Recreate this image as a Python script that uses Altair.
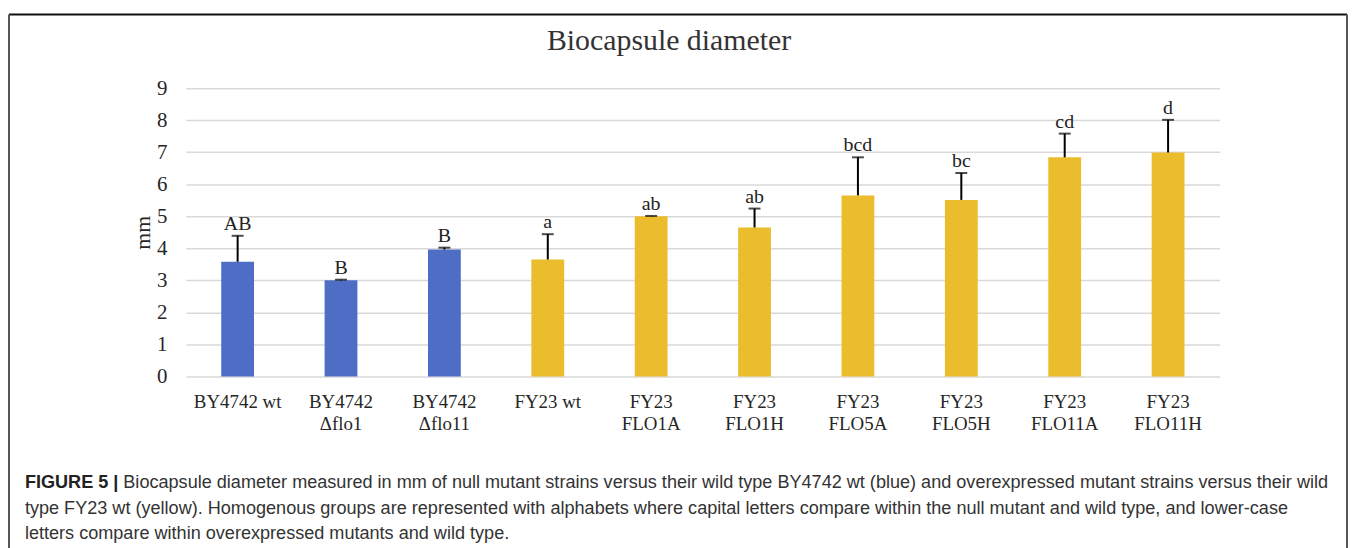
import altair as alt
import pandas as pd

# ---- data ----
strains = ["BY4742 wt", "BY4742 Δflo1", "BY4742 Δflo11", "FY23 wt", "FY23 FLO1A",
           "FY23 FLO1H", "FY23 FLO5A", "FY23 FLO5H", "FY23 FLO11A", "FY23 FLO11H"]
groups = ["BY4742", "BY4742", "BY4742", "FY23", "FY23",
          "FY23", "FY23", "FY23", "FY23", "FY23"]
means = [3.58, 3.00, 3.96, 3.65, 5.00, 4.65, 5.65, 5.51, 6.84, 6.99]
errors = [0.81, 0.02, 0.06, 0.79, 0.01, 0.59, 1.19, 0.84, 0.74, 1.02]
letters = ["AB", "B", "B", "a", "ab", "ab", "bcd", "bc", "cd", "d"]
y_ticks = [0, 1, 2, 3, 4, 5, 6, 7, 8, 9]

group_names = ["BY4742", "FY23"]
group_colors = ["#4E6EC5", "#EBBC2C"]

title_text = "Biocapsule diameter"
caption_bold = "FIGURE 5 |"
caption_lines = [
    "Biocapsule diameter measured in mm of null mutant strains versus their wild type BY4742 wt (blue) and overexpressed mutant strains versus their wild",
    "type FY23 wt (yellow). Homogenous groups are represented with alphabets where capital letters compare within the null mutant and wild type, and lower-case",
    "letters compare within overexpressed mutants and wild type.",
]

df = pd.DataFrame({
    "strain": strains,
    "group": groups,
    "mean": means,
    "err": errors,
    "letter": letters,
})
df["upper"] = df["mean"] + df["err"]

SERIF = "Liberation Serif"
SANS = "Liberation Sans"
CAP_SIZE = 18.2

x_enc = alt.X(
    "strain:N",
    sort=strains,
    scale=alt.Scale(paddingInner=0.1, paddingOuter=0.05),
    axis=alt.Axis(
        title=None, labelAngle=0, domain=False, ticks=False, tickSize=0,
        labelPadding=16, labelFont=SERIF, labelFontSize=19, labelColor="#262626",
        labelLineHeight=22, labelBaseline="top",
        labelExpr="indexof(datum.label, ' wt') >= 0 ? datum.label : split(datum.label, ' ')",
    ),
)

y_axis = alt.Axis(
    values=y_ticks, title="mm", grid=True, gridColor="#D9D9D9", gridWidth=1.5,
    domain=False, ticks=False, tickSize=0, labelPadding=19,
    labelFont=SERIF, labelFontSize=21, labelColor="#262626",
    titleFont=SERIF, titleFontSize=22, titleFontWeight="normal", titleColor="#262626",
    titleX=-44, titleY=145, titleAngle=270, titleAlign="center", titleBaseline="middle",
)
y_scale = alt.Scale(domain=[0, 9], nice=False)

base = alt.Chart(df)

bars = base.mark_bar(width=33).encode(
    x=x_enc,
    y=alt.Y("mean:Q", scale=y_scale, axis=y_axis),
    color=alt.Color("group:N", scale=alt.Scale(domain=group_names, range=group_colors), legend=None),
)

rules = base.mark_rule(color="black", strokeWidth=2).encode(
    x=x_enc,
    y=alt.Y("mean:Q", scale=y_scale, axis=y_axis),
    y2="upper:Q",
)

caps = base.mark_tick(color="black", thickness=2, size=12).encode(
    x=x_enc,
    y=alt.Y("upper:Q", scale=y_scale, axis=y_axis),
)

labels = base.mark_text(baseline="alphabetic", dy=-6, font=SERIF, fontSize=20, color="#222222").encode(
    x=x_enc,
    y=alt.Y("upper:Q", scale=y_scale, axis=y_axis),
    text="letter:N",
)

one = alt.Data(values=[{}])

title = alt.Chart(one).mark_text(
    font=SERIF, fontSize=30, color="#333333", align="center", baseline="middle"
).encode(x=alt.value(486), y=alt.value(-47), text=alt.value(title_text))

cap_bold = alt.Chart(one).mark_text(
    font=SANS, fontSize=CAP_SIZE, fontWeight="bold", color="#222222", align="left", baseline="middle"
).encode(x=alt.value(-162), y=alt.value(397), text=alt.value(caption_bold))

cap1 = alt.Chart(one).mark_text(
    font=SANS, fontSize=CAP_SIZE, color="#333333", align="left", baseline="middle"
).encode(x=alt.value(-63), y=alt.value(397), text=alt.value(caption_lines[0]))

cap2 = alt.Chart(one).mark_text(
    font=SANS, fontSize=CAP_SIZE, color="#333333", align="left", baseline="middle"
).encode(x=alt.value(-162), y=alt.value(423), text=alt.value(caption_lines[1]))

cap3 = alt.Chart(one).mark_text(
    font=SANS, fontSize=CAP_SIZE, color="#333333", align="left", baseline="middle"
).encode(x=alt.value(-162), y=alt.value(449), text=alt.value(caption_lines[2]))

frame_top = alt.Chart(one).mark_rule(color="#111111", strokeWidth=2).encode(
    x=alt.value(-178), x2=alt.value(1168), y=alt.value(-74))
frame_left = alt.Chart(one).mark_rule(color="#555555", strokeWidth=2).encode(
    x=alt.value(-178), y=alt.value(-74), y2=alt.value(470))
frame_right = alt.Chart(one).mark_rule(color="#555555", strokeWidth=2).encode(
    x=alt.value(1168), y=alt.value(-74), y2=alt.value(470))

chart = alt.layer(
    bars, rules, caps, labels, title, cap_bold, cap1, cap2, cap3,
    frame_top, frame_left, frame_right,
).properties(
    width=1040, height=290,
    autosize=alt.AutoSizeParams(type="none"),
    padding={"left": 179, "top": 79, "right": 130, "bottom": 171},
    background="white",
).configure_view(stroke=None)

chart.save("out.html", embed_options={"renderer": "svg", "actions": False})
